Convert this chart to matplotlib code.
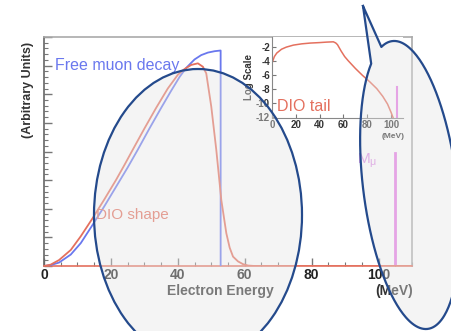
import numpy as np
import matplotlib
matplotlib.use("Agg")
import matplotlib.pyplot as plt
from matplotlib.patches import Ellipse, Polygon
from matplotlib.ticker import MultipleLocator

plt.rcParams['font.family'] = ['Liberation Sans', 'DejaVu Sans']

# free muon decay (Michel spectrum), arbitrary units
muon_e = [0, 2, 4.5, 8, 11, 14.5, 18, 21.5, 25, 28, 31.5, 35, 38, 40.5, 42.5,
          45, 47, 49, 51, 52.8, 52.8]
muon_y = [0, 0.004, 0.015, 0.05, 0.10, 0.179, 0.26, 0.345, 0.43, 0.507, 0.60,
          0.69, 0.765, 0.825, 0.865, 0.902, 0.921, 0.932, 0.938, 0.941, 0]

# decay in orbit shape
dio_e = [0, 2, 4.5, 8, 11, 14.5, 18, 21.5, 24, 26.5, 30, 33.5, 37, 40, 42, 44,
         46, 47.5, 48.5, 50, 51.5, 53, 54.5, 55.5, 56.5, 58, 59.5, 61, 63, 110]
dio_y = [0, 0.006, 0.026, 0.07, 0.13, 0.208, 0.29, 0.375, 0.44, 0.507, 0.60,
         0.69, 0.775, 0.835, 0.86, 0.878, 0.885, 0.87, 0.841, 0.696, 0.507,
         0.288, 0.143, 0.08, 0.041, 0.02, 0.008, 0.002, 0, 0]

# DIO tail on log scale (inset)
tail_e = [0.5, 2, 4, 8, 12, 18, 25, 32, 40, 46, 51.5, 53.5, 55, 58, 61, 64,
          70, 76, 82, 88, 93, 97, 100, 102]
tail_y = [-4.1, -3.4, -2.9, -2.35, -2.05, -1.76, -1.58, -1.47, -1.4, -1.33,
          -1.29, -1.45, -1.7, -2.6, -3.4, -4.0, -5.1, -6.1, -7.0, -8.0, -9.1,
          -10.2, -11.4, -12.3]

m_mu = 105
m_mu_top = 0.495
m_mu_top_log = -7.8

blue = '#6a78ee'
red = '#e4705e'
pink = '#e67ae6'

fig = plt.figure(figsize=(4.52, 3.31), dpi=100)
W, H = 452, 331


def px_axes(x0, y0, x1, y1):
    return fig.add_axes([x0 / W, 1 - y1 / H, (x1 - x0) / W, (y1 - y0) / H])


ax = px_axes(44, 37, 412, 266)
ax.plot(muon_e, muon_y, color=blue, lw=1.3, zorder=3)
ax.plot(dio_e, dio_y, color=red, lw=1.3, zorder=4)
ax.plot([m_mu, m_mu], [0, m_mu_top], color=pink, lw=2, zorder=3)
ax.set_xlim(0, 110)
ax.set_ylim(0, 1)
ax.xaxis.set_major_locator(MultipleLocator(20))
ax.xaxis.set_minor_locator(MultipleLocator(5))
ax.yaxis.set_major_locator(MultipleLocator(0.125))
ax.yaxis.set_minor_locator(MultipleLocator(0.025))
ax.tick_params(which='both', direction='in', colors='#777', labelcolor='#222')
ax.tick_params(which='major', length=6, width=1)
ax.tick_params(which='minor', length=3, width=0.8)
ax.tick_params(axis='y', labelleft=False)
ax.tick_params(axis='x', labelsize=10, pad=1.5)
ax.set_xticks([0, 20, 40, 60, 80, 100])
ax.set_xticklabels(['0', '20', '40', '60', '80', '100'], fontweight='bold')
for s in ['top', 'right']:
    ax.spines[s].set_color('#aaaaaa')
ax.spines['left'].set_color('#666666')
ax.spines['bottom'].set_color(red)
for s in ax.spines.values():
    s.set_linewidth(1.2)

ax.text(3.2, 0.874, 'Free muon decay', color=blue, fontsize=11.5, va='center')
ax.text(15.5, 0.223, 'DIO shape', color=red, fontsize=11, va='center')
ax.text(93.5, 0.46, r'$\mathregular{M_\mu}$', color='#dd8ee6', fontsize=11,
        va='center')
fig.text(220 / W, 1 - 291 / H, 'Electron Energy', fontsize=10,
         fontweight='bold', color='#333', ha='center', va='center')
fig.text(413 / W, 1 - 291 / H, '(MeV)', fontsize=10, fontweight='bold',
         color='#333', ha='right', va='center')
fig.text(28 / W, 1 - 90 / H, '(Arbitrary Units)', fontsize=9,
         fontweight='bold', color='#333', rotation=90, ha='center',
         va='center')

# inset with the tail on log scale
ins = px_axes(272, 37, 403, 118)
ins.set_facecolor('white')
ins.plot(tail_e, tail_y, color=red, lw=1.1)
ins.plot([m_mu, m_mu], [-12.3, m_mu_top_log], color=pink, lw=1.5)
ins.set_xlim(0, 110)
ins.set_ylim(-12.2, -0.6)
ins.set_xticks([0, 20, 40, 60, 80, 100])
ins.set_yticks([-2, -4, -6, -8, -10, -12])
ins.set_yticklabels(['-2', '-4', '-6', '-8', '-10', '-12'])
ins.tick_params(direction='in', length=3, labelsize=7, colors='#777',
                labelcolor='#333', pad=1.5)
for lab in ins.get_xticklabels() + ins.get_yticklabels():
    lab.set_fontweight('bold')
for s in ['top', 'right']:
    ins.spines[s].set_visible(False)
for s in ['left', 'bottom']:
    ins.spines[s].set_color('#888')
ins.set_ylabel('Log Scale', fontsize=7, fontweight='bold', color='#333',
               labelpad=1)
ins.text(4, -10.6, 'DIO tail', color=red, fontsize=11.5, va='center')
fig.text(393 / W, 1 - 137 / H, '(MeV)', fontsize=6, fontweight='bold',
         color='#333', ha='center', va='center')

# overlay: ellipse and speech bubble drawn in pixel coordinates
ov = fig.add_axes([0, 0, 1, 1], zorder=10)
ov.set_xlim(0, W)
ov.set_ylim(H, 0)
ov.axis('off')
ov.patch.set_alpha(0)

fill = '#e4e4e4'
edge = '#244a8c'
ov.add_patch(Ellipse((198, 215), 208, 292, facecolor=fill, alpha=0.4,
                     edgecolor='none'))
ov.add_patch(Ellipse((198, 215), 208, 292, facecolor='none', edgecolor=edge,
                     lw=1.6))

cx, cy, a, b, phi = 410, 185, 47, 145, np.radians(7)
u = np.array([np.sin(phi), np.cos(phi)])
v = np.array([np.cos(phi), -np.sin(phi)])
t = np.linspace(-1.82, 2 * np.pi - 2.1, 300)
arc = np.array([cx, cy]) + np.outer(a * np.cos(t), v) + np.outer(b * np.sin(t), u)
tip = np.array([[363, 6]])
outline = np.vstack([tip, arc, tip])
ov.add_patch(Polygon(outline, closed=True, facecolor=fill, alpha=0.4,
                     edgecolor='none'))
ov.plot(outline[:, 0], outline[:, 1], color=edge, lw=1.6)

fig.savefig('out.png', dpi=100)
